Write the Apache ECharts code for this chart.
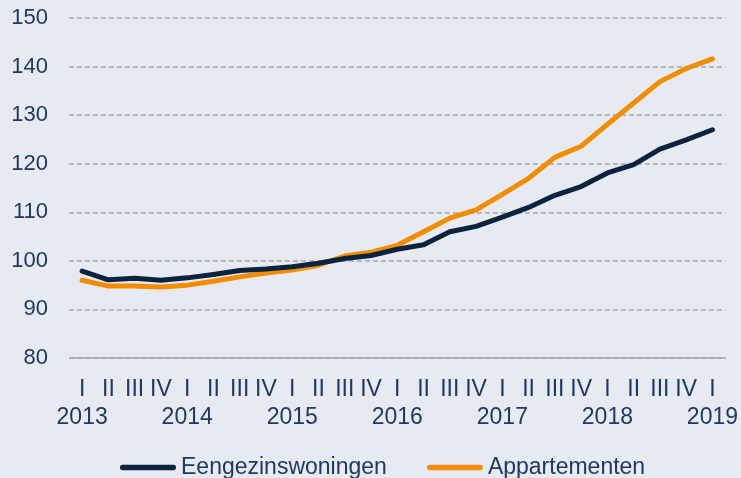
<!DOCTYPE html>
<html>
<head>
<meta charset="utf-8">
<script src="https://cdn.jsdelivr.net/npm/echarts@6/dist/echarts.min.js"></script>
<style>
  html, body { margin: 0; padding: 0; background: #e7eaf1; }
  #chart { width: 741px; height: 478px; }
</style>
</head>
<body>
<div id="chart"></div>
<script>
// kwartalen 2013 I t/m 2019 I
var quarters = ['I', 'II', 'III', 'IV'];
var years = ['2013', '2014', '2015', '2016', '2017', '2018', '2019'];
var categories = [];
years.forEach(function (y) {
  quarters.forEach(function (q, i) {
    if (y === '2019' && i > 0) return;
    categories.push(i === 0 ? q + '\n' + y : q);
  });
});

var eengezins = [97.9, 96.1, 96.4, 96.0, 96.5, 97.2, 98.0, 98.3, 98.8, 99.5, 100.5, 101.1,
  102.4, 103.3, 106.0, 107.1, 109.0, 111.0, 113.5, 115.3, 118.1, 119.8, 123.0, 124.9, 127.0];
var appartementen = [96.0, 94.8, 94.8, 94.6, 95.0, 95.8, 96.7, 97.5, 98.1, 99.1, 101.0, 101.8,
  103.2, 106.0, 108.8, 110.5, 113.7, 117.0, 121.3, 123.6, 128.1, 132.5, 136.9, 139.6, 141.6];

var textColor = '#1f3864';
var lineIcon = 'path://M3,0 L57,0 A3,3 0 0 1 57,6 L3,6 A3,3 0 0 1 3,0 Z';

var option = {
  backgroundColor: '#e7eaf1',
  textStyle: { fontFamily: 'Liberation Sans, Arial, sans-serif' },
  grid: { left: 69, right: 14, top: 18, bottom: 120 },
  legend: {
    top: 451,
    left: 115,
    itemWidth: 56,
    itemHeight: 6,
    itemGap: 40,
    itemTextGap: 5,
    textStyle: { color: textColor, fontSize: 23 },
    data: [
      { name: 'Eengezinswoningen', icon: lineIcon },
      { name: 'Appartementen', icon: lineIcon }
    ]
  },
  xAxis: {
    type: 'category',
    data: categories,
    boundaryGap: true,
    axisLine: { show: false },
    axisTick: { show: false },
    axisLabel: {
      interval: 0,
      color: textColor,
      fontSize: 23,
      lineHeight: 28,
      margin: 18
    }
  },
  yAxis: {
    type: 'value',
    min: 80,
    max: 150,
    interval: 10,
    axisLine: { show: false },
    axisTick: { show: false },
    axisLabel: { color: textColor, fontSize: 22, margin: 21 },
    splitLine: {
      lineStyle: { color: '#a6a6a6', type: [5, 3], width: 1.5 }
    }
  },
  series: [
    {
      name: 'Eengezinswoningen',
      type: 'line',
      data: eengezins,
      symbol: 'none',
      color: '#0c2340',
      lineStyle: { width: 5, color: '#0c2340', cap: 'round', join: 'round' },
      markLine: {
        silent: true,
        symbol: 'none',
        label: { show: false },
        lineStyle: { color: '#a6a6a6', type: 'solid', width: 1.5 },
        data: [{ yAxis: 80 }]
      },
      z: 3
    },
    {
      name: 'Appartementen',
      type: 'line',
      data: appartementen,
      symbol: 'none',
      color: '#f28c00',
      lineStyle: { width: 5, color: '#f28c00', cap: 'round', join: 'round' },
      z: 2
    }
  ]
};

var chart = echarts.init(document.getElementById('chart'));
chart.setOption(option);
</script>
</body>
</html>
